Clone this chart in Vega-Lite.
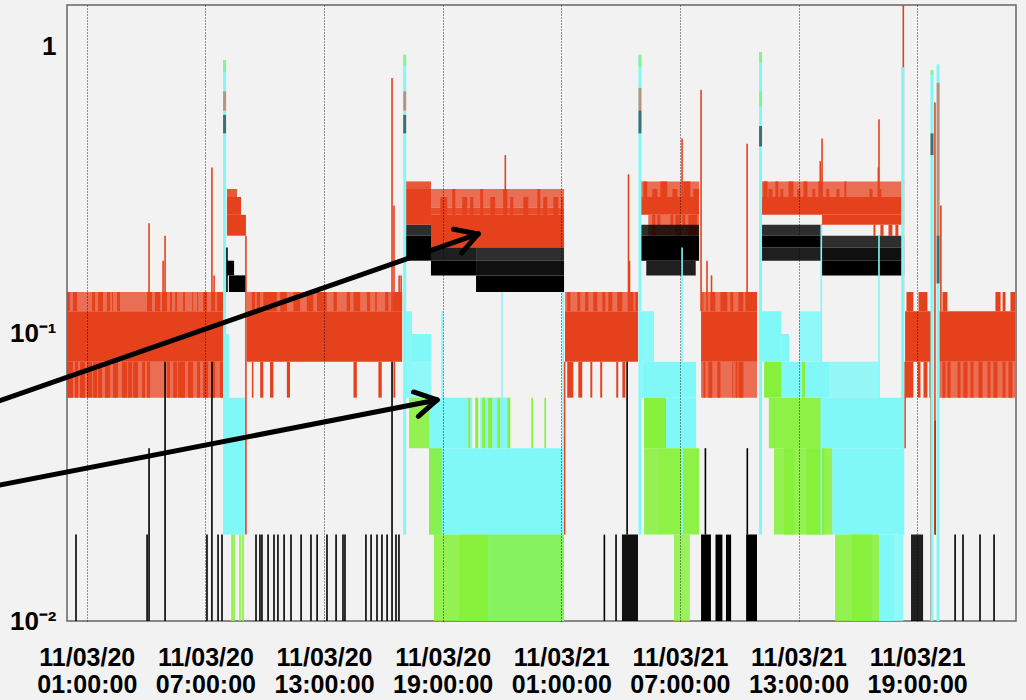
{
  "$schema": "https://vega.github.io/schema/vega-lite/v6.json",
  "width": 949,
  "height": 616,
  "autosize": "none",
  "padding": {"left": 67, "top": 5, "right": 10, "bottom": 79},
  "background": "#f2f2f2",
  "config": {
    "view": {"stroke": "#666666", "strokeWidth": 1.5, "fill": "#f2f2f2"},
    "axis": {"labelFont": "Liberation Sans", "labelFontWeight": "bold", "labelFontSize": 25, "labelColor": "#000000", "domain": false, "ticks": false, "tickSize": 0, "title": null}
  },
  "datasets": {
    "stripes": [
      {"x1": 0, "x2": 0.15, "lo": 0.12, "hi": 0.14}, {"x1": 0.3, "x2": 0.51, "lo": 0.12, "hi": 0.14}, {"x1": 1.27, "x2": 1.42, "lo": 0.12, "hi": 0.14}, {"x1": 1.57, "x2": 1.82, "lo": 0.12, "hi": 0.14}, {"x1": 2.02, "x2": 2.18, "lo": 0.12, "hi": 0.14}, {"x1": 2.28, "x2": 2.33, "lo": 0.12, "hi": 0.14}, {"x1": 2.53, "x2": 2.68, "lo": 0.12, "hi": 0.14}, {"x1": 4.05, "x2": 4.3, "lo": 0.12, "hi": 0.14}, {"x1": 4.45, "x2": 4.71, "lo": 0.12, "hi": 0.14}, {"x1": 4.81, "x2": 5.06, "lo": 0.12, "hi": 0.14}, {"x1": 5.21, "x2": 5.31, "lo": 0.12, "hi": 0.14}, {"x1": 5.47, "x2": 5.57, "lo": 0.12, "hi": 0.14}, {"x1": 5.87, "x2": 5.97, "lo": 0.12, "hi": 0.14}, {"x1": 6.33, "x2": 6.38, "lo": 0.12, "hi": 0.14}, {"x1": 6.58, "x2": 6.63, "lo": 0.12, "hi": 0.14}, {"x1": 6.88, "x2": 7.09, "lo": 0.12, "hi": 0.14}, {"x1": 7.34, "x2": 7.49, "lo": 0.12, "hi": 0.14}, {"x1": 7.59, "x2": 7.89, "lo": 0.12, "hi": 0.14},
      {"x1": 0, "x2": 0.3, "lo": 0.06, "hi": 0.08}, {"x1": 0.4, "x2": 0.56, "lo": 0.06, "hi": 0.08}, {"x1": 0.66, "x2": 0.91, "lo": 0.06, "hi": 0.08}, {"x1": 1.01, "x2": 1.27, "lo": 0.06, "hi": 0.08}, {"x1": 1.32, "x2": 1.52, "lo": 0.06, "hi": 0.08}, {"x1": 1.57, "x2": 1.77, "lo": 0.06, "hi": 0.08}, {"x1": 1.92, "x2": 2.18, "lo": 0.06, "hi": 0.08}, {"x1": 2.33, "x2": 2.58, "lo": 0.06, "hi": 0.08}, {"x1": 2.78, "x2": 3.04, "lo": 0.06, "hi": 0.08}, {"x1": 3.09, "x2": 3.29, "lo": 0.06, "hi": 0.08}, {"x1": 3.34, "x2": 3.59, "lo": 0.06, "hi": 0.08}, {"x1": 3.8, "x2": 3.95, "lo": 0.06, "hi": 0.08}, {"x1": 4.05, "x2": 4.2, "lo": 0.06, "hi": 0.08}, {"x1": 5.06, "x2": 5.21, "lo": 0.06, "hi": 0.08}, {"x1": 5.37, "x2": 5.57, "lo": 0.06, "hi": 0.08}, {"x1": 5.62, "x2": 5.97, "lo": 0.06, "hi": 0.08}, {"x1": 6.12, "x2": 6.38, "lo": 0.06, "hi": 0.08}, {"x1": 6.58, "x2": 6.73, "lo": 0.06, "hi": 0.08}, {"x1": 6.88, "x2": 7.14, "lo": 0.06, "hi": 0.08}, {"x1": 7.34, "x2": 7.49, "lo": 0.06, "hi": 0.08}, {"x1": 7.74, "x2": 7.89, "lo": 0.06, "hi": 0.08},
      {"x1": 9.35, "x2": 9.51, "lo": 0.12, "hi": 0.14}, {"x1": 9.6, "x2": 9.77, "lo": 0.12, "hi": 0.14}, {"x1": 9.93, "x2": 10.61, "lo": 0.12, "hi": 0.14}, {"x1": 10.78, "x2": 11.12, "lo": 0.12, "hi": 0.14}, {"x1": 11.45, "x2": 11.79, "lo": 0.12, "hi": 0.14}, {"x1": 12.13, "x2": 12.46, "lo": 0.12, "hi": 0.14}, {"x1": 12.64, "x2": 13.14, "lo": 0.12, "hi": 0.14}, {"x1": 13.48, "x2": 13.65, "lo": 0.12, "hi": 0.14}, {"x1": 14.15, "x2": 14.32, "lo": 0.12, "hi": 0.14}, {"x1": 14.49, "x2": 14.83, "lo": 0.12, "hi": 0.14}, {"x1": 15.17, "x2": 15.33, "lo": 0.12, "hi": 0.14}, {"x1": 15.59, "x2": 15.67, "lo": 0.12, "hi": 0.14}, {"x1": 16.09, "x2": 16.26, "lo": 0.12, "hi": 0.14}, {"x1": 16.51, "x2": 16.95, "lo": 0.12, "hi": 0.14},
      {"x1": 9.35, "x2": 9.43, "lo": 0.06, "hi": 0.08}, {"x1": 9.77, "x2": 9.93, "lo": 0.06, "hi": 0.08}, {"x1": 10.27, "x2": 10.44, "lo": 0.06, "hi": 0.08}, {"x1": 11.12, "x2": 11.28, "lo": 0.06, "hi": 0.08}, {"x1": 14.49, "x2": 14.66, "lo": 0.06, "hi": 0.08}, {"x1": 15.75, "x2": 15.92, "lo": 0.06, "hi": 0.08}, {"x1": 16.51, "x2": 16.6, "lo": 0.06, "hi": 0.08},
      {"x1": 25.3, "x2": 25.46, "lo": 0.12, "hi": 0.14}, {"x1": 25.81, "x2": 25.96, "lo": 0.12, "hi": 0.14}, {"x1": 26.21, "x2": 26.37, "lo": 0.12, "hi": 0.14}, {"x1": 26.62, "x2": 26.82, "lo": 0.12, "hi": 0.14}, {"x1": 27.08, "x2": 27.23, "lo": 0.12, "hi": 0.14}, {"x1": 27.38, "x2": 27.58, "lo": 0.12, "hi": 0.14}, {"x1": 27.83, "x2": 28.09, "lo": 0.12, "hi": 0.14}, {"x1": 28.49, "x2": 28.64, "lo": 0.12, "hi": 0.14}, {"x1": 28.75, "x2": 28.88, "lo": 0.12, "hi": 0.14},
      {"x1": 25.3, "x2": 25.61, "lo": 0.06, "hi": 0.08}, {"x1": 25.86, "x2": 26.06, "lo": 0.06, "hi": 0.08}, {"x1": 26.47, "x2": 26.57, "lo": 0.06, "hi": 0.08}, {"x1": 26.97, "x2": 27.07, "lo": 0.06, "hi": 0.08}, {"x1": 27.78, "x2": 27.88, "lo": 0.06, "hi": 0.08}, {"x1": 28.09, "x2": 28.24, "lo": 0.06, "hi": 0.08},
      {"x1": 32.14, "x2": 32.19, "lo": 0.12, "hi": 0.14}, {"x1": 32.54, "x2": 32.79, "lo": 0.12, "hi": 0.14}, {"x1": 33.05, "x2": 33.4, "lo": 0.12, "hi": 0.14}, {"x1": 33.55, "x2": 33.7, "lo": 0.12, "hi": 0.14}, {"x1": 33.96, "x2": 34.21, "lo": 0.12, "hi": 0.14}, {"x1": 34.31, "x2": 34.9, "lo": 0.12, "hi": 0.14},
      {"x1": 32.19, "x2": 32.29, "lo": 0.06, "hi": 0.08}, {"x1": 32.44, "x2": 32.64, "lo": 0.06, "hi": 0.08}, {"x1": 32.89, "x2": 33.05, "lo": 0.06, "hi": 0.08}, {"x1": 33.65, "x2": 33.7, "lo": 0.06, "hi": 0.08}, {"x1": 33.81, "x2": 33.91, "lo": 0.06, "hi": 0.08}, {"x1": 33.96, "x2": 34.21, "lo": 0.06, "hi": 0.08},
      {"x1": 42.46, "x2": 42.81, "lo": 0.12, "hi": 0.14}, {"x1": 43.07, "x2": 43.52, "lo": 0.12, "hi": 0.14}, {"x1": 44.28, "x2": 44.53, "lo": 0.12, "hi": 0.14}, {"x1": 46.96, "x2": 47.22, "lo": 0.12, "hi": 0.14}, {"x1": 47.32, "x2": 47.47, "lo": 0.12, "hi": 0.14}, {"x1": 47.72, "x2": 47.95, "lo": 0.12, "hi": 0.14},
      {"x1": 42.39, "x2": 42.81, "lo": 0.06, "hi": 0.08}, {"x1": 43.02, "x2": 43.17, "lo": 0.06, "hi": 0.08}, {"x1": 43.32, "x2": 43.52, "lo": 0.06, "hi": 0.08}, {"x1": 43.62, "x2": 43.67, "lo": 0.06, "hi": 0.08}, {"x1": 44.28, "x2": 44.43, "lo": 0.06, "hi": 0.08}, {"x1": 44.53, "x2": 44.69, "lo": 0.06, "hi": 0.08}, {"x1": 45.04, "x2": 45.19, "lo": 0.06, "hi": 0.08}, {"x1": 45.34, "x2": 45.55, "lo": 0.06, "hi": 0.08}, {"x1": 45.7, "x2": 45.85, "lo": 0.06, "hi": 0.08}, {"x1": 46.1, "x2": 46.31, "lo": 0.06, "hi": 0.08}, {"x1": 46.56, "x2": 46.71, "lo": 0.06, "hi": 0.08}, {"x1": 46.86, "x2": 47.06, "lo": 0.06, "hi": 0.08}, {"x1": 47.32, "x2": 47.47, "lo": 0.06, "hi": 0.08}, {"x1": 47.62, "x2": 47.82, "lo": 0.06, "hi": 0.08},
      {"x1": 18.88, "x2": 19.23, "lo": 0.26, "hi": 0.3}, {"x1": 19.48, "x2": 19.64, "lo": 0.26, "hi": 0.32}, {"x1": 19.99, "x2": 20.24, "lo": 0.26, "hi": 0.3}, {"x1": 20.39, "x2": 20.55, "lo": 0.26, "hi": 0.3}, {"x1": 20.9, "x2": 21.05, "lo": 0.26, "hi": 0.32}, {"x1": 21.41, "x2": 21.66, "lo": 0.26, "hi": 0.3}, {"x1": 22.06, "x2": 22.27, "lo": 0.26, "hi": 0.32}, {"x1": 22.42, "x2": 22.57, "lo": 0.26, "hi": 0.3}, {"x1": 23.08, "x2": 23.33, "lo": 0.26, "hi": 0.3}, {"x1": 23.79, "x2": 23.94, "lo": 0.26, "hi": 0.32}, {"x1": 24.09, "x2": 24.29, "lo": 0.26, "hi": 0.3}, {"x1": 24.6, "x2": 24.85, "lo": 0.26, "hi": 0.3}, {"x1": 25.0, "x2": 25.1, "lo": 0.26, "hi": 0.3},
      {"x1": 29.15, "x2": 29.35, "lo": 0.3, "hi": 0.34}, {"x1": 29.6, "x2": 29.86, "lo": 0.3, "hi": 0.32}, {"x1": 30.01, "x2": 30.36, "lo": 0.3, "hi": 0.34}, {"x1": 30.62, "x2": 30.87, "lo": 0.3, "hi": 0.32}, {"x1": 31.17, "x2": 31.53, "lo": 0.3, "hi": 0.34}, {"x1": 31.68, "x2": 31.97, "lo": 0.3, "hi": 0.32},
      {"x1": 29.6, "x2": 29.76, "lo": 0.22, "hi": 0.26}, {"x1": 29.86, "x2": 30.01, "lo": 0.24, "hi": 0.26}, {"x1": 30.52, "x2": 30.67, "lo": 0.24, "hi": 0.26}, {"x1": 30.77, "x2": 31.02, "lo": 0.22, "hi": 0.26}, {"x1": 31.12, "x2": 31.27, "lo": 0.24, "hi": 0.26}, {"x1": 31.43, "x2": 31.88, "lo": 0.22, "hi": 0.26},
      {"x1": 35.22, "x2": 35.43, "lo": 0.3, "hi": 0.34}, {"x1": 35.48, "x2": 35.68, "lo": 0.3, "hi": 0.32}, {"x1": 35.83, "x2": 35.98, "lo": 0.3, "hi": 0.34}, {"x1": 36.08, "x2": 36.23, "lo": 0.3, "hi": 0.32}, {"x1": 36.49, "x2": 36.74, "lo": 0.3, "hi": 0.34}, {"x1": 36.94, "x2": 37.09, "lo": 0.3, "hi": 0.32}, {"x1": 37.25, "x2": 37.45, "lo": 0.3, "hi": 0.34}, {"x1": 37.7, "x2": 37.85, "lo": 0.3, "hi": 0.32}, {"x1": 38.0, "x2": 38.21, "lo": 0.3, "hi": 0.34}, {"x1": 38.41, "x2": 38.56, "lo": 0.3, "hi": 0.32}, {"x1": 38.92, "x2": 39.07, "lo": 0.3, "hi": 0.32}, {"x1": 39.32, "x2": 39.42, "lo": 0.3, "hi": 0.34}, {"x1": 40.59, "x2": 40.74, "lo": 0.3, "hi": 0.32}, {"x1": 41.09, "x2": 41.19, "lo": 0.3, "hi": 0.32},
      {"x1": 40.79, "x2": 40.89, "lo": 0.22, "hi": 0.24}, {"x1": 41.14, "x2": 41.3, "lo": 0.22, "hi": 0.24}, {"x1": 41.55, "x2": 41.75, "lo": 0.22, "hi": 0.24}, {"x1": 41.9, "x2": 42.05, "lo": 0.22, "hi": 0.24}
    ],
    "blocks": [
      {"s": "red", "k": "wash", "x1": 0, "x2": 7.89, "lo": 0.12, "hi": 0.14},
      {"s": "red", "k": "wash", "x1": 0, "x2": 7.89, "lo": 0.06, "hi": 0.08},
      {"s": "red", "k": "wash", "x1": 9.1, "x2": 16.95, "lo": 0.12, "hi": 0.14},
      {"s": "red", "k": "wash", "x1": 25.19, "x2": 28.88, "lo": 0.12, "hi": 0.14},
      {"s": "red", "k": "wash", "x1": 32.07, "x2": 34.9, "lo": 0.12, "hi": 0.14},
      {"s": "red", "k": "wash", "x1": 32.07, "x2": 34.9, "lo": 0.06, "hi": 0.08},
      {"s": "red", "k": "wash", "x1": 44.11, "x2": 47.95, "lo": 0.06, "hi": 0.08},
      {"s": "red", "k": "core", "x1": 0, "x2": 7.89, "lo": 0.08, "hi": 0.12},
      {"s": "red", "k": "core", "x1": 9.1, "x2": 16.95, "lo": 0.08, "hi": 0.12},
      {"s": "red", "k": "core", "x1": 25.19, "x2": 28.88, "lo": 0.08, "hi": 0.12},
      {"s": "red", "k": "core", "x1": 32.07, "x2": 34.9, "lo": 0.08, "hi": 0.12},
      {"s": "red", "k": "core", "x1": 42.39, "x2": 43.7, "lo": 0.08, "hi": 0.12},
      {"s": "red", "k": "core", "x1": 44.11, "x2": 47.95, "lo": 0.08, "hi": 0.12},
      {"s": "red", "k": "core", "x1": 8.09, "x2": 9.05, "lo": 0.22, "hi": 0.26},
      {"s": "red", "k": "core", "x1": 8.09, "x2": 8.8, "lo": 0.26, "hi": 0.3},
      {"s": "red", "k": "fringe", "x1": 8.09, "x2": 8.6, "lo": 0.3, "hi": 0.32},
      {"s": "red", "k": "core", "x1": 17.15, "x2": 18.41, "lo": 0.24, "hi": 0.32},
      {"s": "red", "k": "fringe", "x1": 17.15, "x2": 18.41, "lo": 0.32, "hi": 0.34},
      {"s": "red", "k": "core", "x1": 18.41, "x2": 25.14, "lo": 0.2, "hi": 0.26},
      {"s": "red", "k": "dense", "x1": 18.41, "x2": 25.14, "lo": 0.26, "hi": 0.275},
      {"s": "red", "k": "wash", "x1": 18.41, "x2": 25.14, "lo": 0.275, "hi": 0.32},
      {"s": "red", "k": "core", "x1": 28.98, "x2": 31.97, "lo": 0.26, "hi": 0.3},
      {"s": "red", "k": "wash", "x1": 28.98, "x2": 31.97, "lo": 0.3, "hi": 0.34},
      {"s": "red", "k": "wash", "x1": 29.4, "x2": 31.97, "lo": 0.22, "hi": 0.26},
      {"s": "red", "k": "core", "x1": 35.1, "x2": 42.34, "lo": 0.26, "hi": 0.3},
      {"s": "red", "k": "core", "x1": 38.19, "x2": 42.34, "lo": 0.24, "hi": 0.26},
      {"s": "red", "k": "wash", "x1": 35.1, "x2": 42.34, "lo": 0.3, "hi": 0.34},
      {"s": "black", "k": "core", "x1": 8.09, "x2": 8.45, "lo": 0.16, "hi": 0.18},
      {"s": "black", "k": "core", "x1": 8.19, "x2": 9.05, "lo": 0.14, "hi": 0.16},
      {"s": "black", "k": "core", "x1": 17.15, "x2": 18.41, "lo": 0.18, "hi": 0.22},
      {"s": "black", "k": "sparse", "x1": 17.15, "x2": 18.41, "lo": 0.22, "hi": 0.24},
      {"s": "black", "k": "core", "x1": 18.41, "x2": 20.69, "lo": 0.16, "hi": 0.18},
      {"s": "black", "k": "fringe", "x1": 18.41, "x2": 20.69, "lo": 0.18, "hi": 0.2},
      {"s": "black", "k": "core", "x1": 20.69, "x2": 25.14, "lo": 0.14, "hi": 0.16},
      {"s": "black", "k": "dense", "x1": 20.69, "x2": 25.14, "lo": 0.16, "hi": 0.18},
      {"s": "black", "k": "sparse", "x1": 20.69, "x2": 25.14, "lo": 0.18, "hi": 0.2},
      {"s": "black", "k": "core", "x1": 28.98, "x2": 31.97, "lo": 0.18, "hi": 0.22},
      {"s": "black", "k": "fringe", "x1": 29.3, "x2": 31.8, "lo": 0.16, "hi": 0.18},
      {"s": "black", "k": "sparse", "x1": 28.98, "x2": 31.97, "lo": 0.22, "hi": 0.24},
      {"s": "black", "k": "core", "x1": 35.1, "x2": 38.19, "lo": 0.2, "hi": 0.22},
      {"s": "black", "k": "fringe", "x1": 35.1, "x2": 38.19, "lo": 0.18, "hi": 0.2},
      {"s": "black", "k": "sparse", "x1": 35.1, "x2": 38.19, "lo": 0.22, "hi": 0.24},
      {"s": "black", "k": "core", "x1": 38.19, "x2": 42.34, "lo": 0.16, "hi": 0.18},
      {"s": "black", "k": "dense", "x1": 38.19, "x2": 42.34, "lo": 0.18, "hi": 0.2},
      {"s": "black", "k": "sparse", "x1": 38.19, "x2": 42.34, "lo": 0.2, "hi": 0.22},
      {"s": "black", "k": "dense", "x1": 28.07, "x2": 28.88, "lo": 0.01, "hi": 0.02},
      {"s": "black", "k": "core", "x1": 32.07, "x2": 32.57, "lo": 0.01, "hi": 0.02},
      {"s": "black", "k": "core", "x1": 32.8, "x2": 33.15, "lo": 0.01, "hi": 0.02},
      {"s": "black", "k": "core", "x1": 33.33, "x2": 33.59, "lo": 0.01, "hi": 0.02},
      {"s": "black", "k": "core", "x1": 34.35, "x2": 34.9, "lo": 0.01, "hi": 0.02},
      {"s": "black", "k": "fringe", "x1": 42.69, "x2": 43.3, "lo": 0.01, "hi": 0.02},
      {"s": "cyan", "k": "core", "x1": 8.04, "x2": 9.0, "lo": 0.02, "hi": 0.06},
      {"s": "cyan", "k": "core", "x1": 7.94, "x2": 8.19, "lo": 0.06, "hi": 0.1},
      {"s": "cyan", "k": "dense", "x1": 17.05, "x2": 17.45, "lo": 0.06, "hi": 0.12},
      {"s": "cyan", "k": "core", "x1": 17.45, "x2": 18.41, "lo": 0.08, "hi": 0.1},
      {"s": "cyan", "k": "fringe", "x1": 17.45, "x2": 18.41, "lo": 0.06, "hi": 0.08},
      {"s": "cyan", "k": "core", "x1": 18.31, "x2": 20.29, "lo": 0.04, "hi": 0.06},
      {"s": "cyan", "k": "core", "x1": 20.39, "x2": 20.5, "lo": 0.04, "hi": 0.06},
      {"s": "cyan", "k": "core", "x1": 20.9, "x2": 21.0, "lo": 0.04, "hi": 0.06},
      {"s": "cyan", "k": "core", "x1": 21.15, "x2": 21.3, "lo": 0.04, "hi": 0.06},
      {"s": "cyan", "k": "core", "x1": 21.51, "x2": 21.76, "lo": 0.04, "hi": 0.06},
      {"s": "cyan", "k": "core", "x1": 21.91, "x2": 22.27, "lo": 0.04, "hi": 0.06},
      {"s": "cyan", "k": "core", "x1": 18.31, "x2": 25.14, "lo": 0.02, "hi": 0.04},
      {"s": "cyan", "k": "core", "x1": 21.3, "x2": 25.14, "lo": 0.01, "hi": 0.02},
      {"s": "cyan", "k": "dense", "x1": 28.98, "x2": 29.69, "lo": 0.08, "hi": 0.12},
      {"s": "cyan", "k": "core", "x1": 29.08, "x2": 31.82, "lo": 0.06, "hi": 0.08},
      {"s": "cyan", "k": "core", "x1": 30.3, "x2": 31.82, "lo": 0.04, "hi": 0.06},
      {"s": "cyan", "k": "core", "x1": 35.1, "x2": 36.12, "lo": 0.08, "hi": 0.12},
      {"s": "cyan", "k": "core", "x1": 36.12, "x2": 36.52, "lo": 0.08, "hi": 0.1},
      {"s": "cyan", "k": "fringe", "x1": 37.03, "x2": 38.19, "lo": 0.08, "hi": 0.12},
      {"s": "cyan", "k": "core", "x1": 36.12, "x2": 37.18, "lo": 0.06, "hi": 0.08},
      {"s": "cyan", "k": "core", "x1": 37.33, "x2": 38.54, "lo": 0.06, "hi": 0.08},
      {"s": "cyan", "k": "sparse", "x1": 38.54, "x2": 41.07, "lo": 0.06, "hi": 0.08},
      {"s": "cyan", "k": "core", "x1": 38.19, "x2": 42.34, "lo": 0.04, "hi": 0.06},
      {"s": "cyan", "k": "core", "x1": 38.7, "x2": 42.34, "lo": 0.02, "hi": 0.04},
      {"s": "cyan", "k": "core", "x1": 41.07, "x2": 41.83, "lo": 0.01, "hi": 0.02},
      {"s": "cyan", "k": "fringe", "x1": 41.83, "x2": 42.3, "lo": 0.01, "hi": 0.02},
      {"s": "green", "k": "fringe", "x1": 17.3, "x2": 18.31, "lo": 0.04, "hi": 0.06},
      {"s": "green", "k": "fringe", "x1": 18.31, "x2": 18.97, "lo": 0.02, "hi": 0.04},
      {"s": "green", "k": "fringe", "x1": 18.56, "x2": 19.83, "lo": 0.01, "hi": 0.02},
      {"s": "green", "k": "core", "x1": 19.83, "x2": 21.3, "lo": 0.01, "hi": 0.02},
      {"s": "green", "k": "sparse", "x1": 21.3, "x2": 25.14, "lo": 0.01, "hi": 0.02},
      {"s": "green", "k": "core", "x1": 20.29, "x2": 20.39, "lo": 0.04, "hi": 0.06},
      {"s": "green", "k": "core", "x1": 20.65, "x2": 20.8, "lo": 0.04, "hi": 0.06},
      {"s": "green", "k": "core", "x1": 21.0, "x2": 21.15, "lo": 0.04, "hi": 0.06},
      {"s": "green", "k": "core", "x1": 21.3, "x2": 21.51, "lo": 0.04, "hi": 0.06},
      {"s": "green", "k": "core", "x1": 21.76, "x2": 21.91, "lo": 0.04, "hi": 0.06},
      {"s": "green", "k": "core", "x1": 22.27, "x2": 22.42, "lo": 0.04, "hi": 0.06},
      {"s": "green", "k": "core", "x1": 29.19, "x2": 30.3, "lo": 0.04, "hi": 0.06},
      {"s": "green", "k": "dense", "x1": 29.94, "x2": 31.97, "lo": 0.02, "hi": 0.04},
      {"s": "green", "k": "fringe", "x1": 29.19, "x2": 29.94, "lo": 0.02, "hi": 0.04},
      {"s": "green", "k": "sparse", "x1": 30.7, "x2": 31.5, "lo": 0.01, "hi": 0.02},
      {"s": "green", "k": "core", "x1": 35.26, "x2": 36.12, "lo": 0.06, "hi": 0.08},
      {"s": "green", "k": "core", "x1": 37.18, "x2": 37.33, "lo": 0.06, "hi": 0.08},
      {"s": "green", "k": "dense", "x1": 35.5, "x2": 38.19, "lo": 0.04, "hi": 0.06},
      {"s": "green", "k": "fringe", "x1": 35.76, "x2": 38.7, "lo": 0.02, "hi": 0.04},
      {"s": "green", "k": "core", "x1": 36.27, "x2": 36.8, "lo": 0.02, "hi": 0.04},
      {"s": "green", "k": "core", "x1": 37.4, "x2": 38.3, "lo": 0.02, "hi": 0.04},
      {"s": "green", "k": "fringe", "x1": 38.85, "x2": 41.07, "lo": 0.01, "hi": 0.02},
      {"s": "green", "k": "core", "x1": 39.71, "x2": 40.72, "lo": 0.01, "hi": 0.02}
    ],
    "lines": [
      {"s": "black", "x1": 0.455, "lo": 0.01, "hi": 0.02},
      {"s": "black", "x1": 4.05, "lo": 0.01, "hi": 0.02},
      {"s": "black", "x1": 7.08, "lo": 0.01, "hi": 0.02},
      {"s": "black", "x1": 7.64, "lo": 0.01, "hi": 0.02},
      {"s": "black", "x1": 7.84, "lo": 0.01, "hi": 0.02},
      {"s": "black", "x1": 9.56, "lo": 0.01, "hi": 0.02},
      {"s": "black", "x1": 9.76, "lo": 0.01, "hi": 0.02},
      {"s": "black", "x1": 9.86, "lo": 0.01, "hi": 0.02},
      {"s": "black", "x1": 10.17, "lo": 0.01, "hi": 0.02},
      {"s": "black", "x1": 10.47, "lo": 0.01, "hi": 0.02},
      {"s": "black", "x1": 10.67, "lo": 0.01, "hi": 0.02},
      {"s": "black", "x1": 10.98, "lo": 0.01, "hi": 0.02},
      {"s": "black", "x1": 11.33, "lo": 0.01, "hi": 0.02},
      {"s": "black", "x1": 11.84, "lo": 0.01, "hi": 0.02},
      {"s": "black", "x1": 12.34, "lo": 0.01, "hi": 0.02},
      {"s": "black", "x1": 12.65, "lo": 0.01, "hi": 0.02},
      {"s": "black", "x1": 13.15, "lo": 0.01, "hi": 0.02},
      {"s": "black", "x1": 13.61, "lo": 0.01, "hi": 0.02},
      {"s": "black", "x1": 13.96, "lo": 0.01, "hi": 0.02},
      {"s": "black", "x1": 14.06, "lo": 0.01, "hi": 0.02},
      {"s": "black", "x1": 15.12, "lo": 0.01, "hi": 0.02},
      {"s": "black", "x1": 15.38, "lo": 0.01, "hi": 0.02},
      {"s": "black", "x1": 15.68, "lo": 0.01, "hi": 0.02},
      {"s": "black", "x1": 15.93, "lo": 0.01, "hi": 0.02},
      {"s": "black", "x1": 16.19, "lo": 0.01, "hi": 0.02},
      {"s": "black", "x1": 16.64, "lo": 0.01, "hi": 0.02},
      {"s": "black", "x1": 16.79, "lo": 0.01, "hi": 0.02},
      {"s": "black", "x1": 27.18, "lo": 0.01, "hi": 0.02},
      {"s": "black", "x1": 27.77, "lo": 0.01, "hi": 0.02},
      {"s": "black", "x1": 44.92, "lo": 0.01, "hi": 0.02},
      {"s": "black", "x1": 45.32, "lo": 0.01, "hi": 0.02},
      {"s": "black", "x1": 46.18, "lo": 0.01, "hi": 0.02},
      {"s": "black", "x1": 46.89, "lo": 0.01, "hi": 0.02},
      {"s": "black", "x1": 4.96, "lo": 0.01, "hi": 0.08},
      {"s": "black", "x1": 7.33, "lo": 0.01, "hi": 0.08},
      {"s": "black", "x1": 16.44, "lo": 0.01, "hi": 0.08},
      {"s": "black", "x1": 4.15, "lo": 0.01, "hi": 0.04},
      {"s": "black", "x1": 28.33, "lo": 0.02, "hi": 0.08},
      {"s": "black", "x1": 32.29, "lo": 0.02, "hi": 0.04},
      {"s": "black", "x1": 34.41, "lo": 0.02, "hi": 0.04},
      {"s": "black", "x1": 43.91, "lo": 0.02, "hi": 0.05},
      {"s": "black", "x1": 8.09, "lo": 0.14, "hi": 0.2},
      {"s": "red", "x1": 4.15, "lo": 0.12, "hi": 0.243},
      {"s": "red", "x1": 4.96, "lo": 0.12, "hi": 0.22},
      {"s": "red", "x1": 4.86, "lo": 0.12, "hi": 0.18},
      {"s": "red", "x1": 7.33, "lo": 0.12, "hi": 0.38},
      {"s": "red", "x1": 7.44, "lo": 0.12, "hi": 0.16},
      {"s": "red", "x1": 16.44, "lo": 0.12, "hi": 0.78},
      {"s": "red", "x1": 16.54, "lo": 0.12, "hi": 0.28},
      {"s": "red", "x1": 16.8, "lo": 0.12, "hi": 0.16},
      {"s": "red", "x1": 16.9, "lo": 0.12, "hi": 0.16},
      {"s": "red", "x1": 9.05, "lo": 0.02, "hi": 0.22},
      {"s": "red", "x1": 22.17, "lo": 0.26, "hi": 0.42},
      {"s": "red", "x1": 25.17, "lo": 0.02, "hi": 0.08},
      {"s": "red", "x1": 28.4, "lo": 0.12, "hi": 0.36},
      {"s": "red", "x1": 28.45, "lo": 0.12, "hi": 0.18},
      {"s": "red", "x1": 31.11, "lo": 0.3, "hi": 0.48},
      {"s": "red", "x1": 32.07, "lo": 0.12, "hi": 0.71},
      {"s": "red", "x1": 32.37, "lo": 0.12, "hi": 0.18},
      {"s": "red", "x1": 32.6, "lo": 0.12, "hi": 0.16},
      {"s": "red", "x1": 34.4, "lo": 0.12, "hi": 0.46},
      {"s": "red", "x1": 38.1, "lo": 0.3, "hi": 0.4},
      {"s": "red", "x1": 38.19, "lo": 0.3, "hi": 0.48},
      {"s": "red", "x1": 41.04, "lo": 0.3, "hi": 0.38},
      {"s": "red", "x1": 41.07, "lo": 0.3, "hi": 0.56},
      {"s": "red", "x1": 42.3, "lo": 0.12, "hi": 1.4},
      {"s": "red", "x1": 43.9, "lo": 0.02, "hi": 0.64},
      {"s": "red", "x1": 44.2, "lo": 0.12, "hi": 0.28},
      {"s": "red", "x1": 42.39, "lo": 0.04, "hi": 0.08},
      {"s": "red", "x1": 43.7, "lo": 0.01, "hi": 0.08},
      {"s": "cyan", "x1": 18.97, "lo": 0.06, "hi": 0.12},
      {"s": "cyan", "x1": 22.0, "lo": 0.06, "hi": 0.14},
      {"s": "cyan", "x1": 31.11, "lo": 0.02, "hi": 0.2},
      {"s": "cyan", "x1": 38.15, "lo": 0.02, "hi": 0.24},
      {"s": "cyan", "x1": 41.07, "lo": 0.02, "hi": 0.22},
      {"s": "cyan", "x1": 25.1, "lo": 0.02, "hi": 0.14},
      {"s": "green", "x1": 8.35, "lo": 0.01, "hi": 0.02},
      {"s": "green", "x1": 8.45, "lo": 0.01, "hi": 0.02},
      {"s": "green", "x1": 8.75, "lo": 0.01, "hi": 0.02},
      {"s": "green", "x1": 8.9, "lo": 0.01, "hi": 0.02},
      {"s": "green", "x1": 23.53, "lo": 0.04, "hi": 0.06},
      {"s": "green", "x1": 24.19, "lo": 0.04, "hi": 0.06}
    ],
    "spikes": [
      {"x1": 7.97, "lo": 0.02, "hi": 0.9},
      {"x1": 17.08, "lo": 0.02, "hi": 0.94},
      {"x1": 28.98, "lo": 0.02, "hi": 0.94},
      {"x1": 35.08, "lo": 0.02, "hi": 0.96},
      {"x1": 42.27, "lo": 0.02, "hi": 0.85},
      {"x1": 43.75, "lo": 0.01, "hi": 0.83},
      {"x1": 44.06, "lo": 0.01, "hi": 0.87}
    ],
    "spikesegs": [
      {"s": "green", "x1": 7.97, "lo": 0.82, "hi": 0.9},
      {"s": "red", "x1": 7.97, "lo": 0.6, "hi": 0.7},
      {"s": "black", "x1": 7.97, "lo": 0.5, "hi": 0.58},
      {"s": "green", "x1": 17.08, "lo": 0.86, "hi": 0.94},
      {"s": "red", "x1": 17.08, "lo": 0.6, "hi": 0.7},
      {"s": "black", "x1": 17.08, "lo": 0.5, "hi": 0.58},
      {"s": "green", "x1": 28.98, "lo": 0.85, "hi": 0.94},
      {"s": "red", "x1": 28.98, "lo": 0.6, "hi": 0.72},
      {"s": "black", "x1": 28.98, "lo": 0.5, "hi": 0.6},
      {"s": "green", "x1": 35.08, "lo": 0.88, "hi": 0.96},
      {"s": "green", "x1": 35.08, "lo": 0.62, "hi": 0.7},
      {"s": "black", "x1": 35.08, "lo": 0.45, "hi": 0.53},
      {"s": "green", "x1": 43.75, "lo": 0.8, "hi": 0.83},
      {"s": "black", "x1": 43.75, "lo": 0.42, "hi": 0.5},
      {"s": "red", "x1": 44.06, "lo": 0.22, "hi": 0.75},
      {"s": "black", "x1": 44.06, "lo": 0.15, "hi": 0.22}
    ],
    "arrows": [
      {"x1": -4, "lo": 0.0566, "x2": 20.8, "hi": 0.2231},
      {"x1": 19.55, "lo": 0.2317, "x2": 20.8, "hi": 0.2231},
      {"x1": 19.97, "lo": 0.1917, "x2": 20.8, "hi": 0.2231},
      {"x1": -4, "lo": 0.0292, "x2": 18.72, "hi": 0.0589},
      {"x1": 17.53, "lo": 0.0628, "x2": 18.72, "hi": 0.0589},
      {"x1": 17.77, "lo": 0.0516, "x2": 18.72, "hi": 0.0589}
    ],
    "ymajor": [{"lo": 0.1}, {"lo": 1}],
    "yminor": [
      {"lo": 0.02}, {"lo": 0.03}, {"lo": 0.04}, {"lo": 0.05}, {"lo": 0.06}, {"lo": 0.07}, {"lo": 0.08}, {"lo": 0.09},
      {"lo": 0.2}, {"lo": 0.3}, {"lo": 0.4}, {"lo": 0.5}, {"lo": 0.6}, {"lo": 0.7}, {"lo": 0.8}, {"lo": 0.9}
    ],
    "xmajor": [{"x1": 1}, {"x1": 7}, {"x1": 13}, {"x1": 19}, {"x1": 25}, {"x1": 31}, {"x1": 37}, {"x1": 43}],
    "xminor": [{"x1": 3}, {"x1": 9}, {"x1": 15}, {"x1": 21}, {"x1": 27}, {"x1": 33}, {"x1": 39}, {"x1": 45}]
  },
  "encoding": {
    "x": {
      "field": "x1", "type": "quantitative",
      "scale": {"domain": [0, 48], "nice": false, "zero": false},
      "axis": {
        "values": [1, 7, 13, 19, 25, 31, 37, 43],
        "labelExpr": "[datum.value < 24 ? '11/03/20' : '11/03/21', (datum.value % 24 < 10 ? '0' : '') + (datum.value % 24) + ':00:00']",
        "labelBaseline": "top", "labelLineHeight": 27, "labelPadding": 24, "labelAlign": "center",
        "labelFlush": false, "labelOverlap": false, "labelBound": false,
        "grid": true, "gridColor": "#000000", "gridDash": [1, 2], "gridWidth": 1, "gridOpacity": 0.8, "zindex": 1
      }
    },
    "y": {
      "field": "lo", "type": "quantitative",
      "scale": {"type": "log", "domain": [0.01, 1.4], "nice": false},
      "axis": {
        "values": [0.01, 0.1, 1],
        "labelExpr": "datum.value >= 1 ? '1' : (datum.value >= 0.1 ? '10⁻¹' : '10⁻²')",
        "labelFontSize": 26, "labelPadding": 11, "grid": false, "labelBaseline": "middle", "zindex": 1
      }
    }
  },
  "layer": [
    {
      "data": {"name": "ymajor"},
      "mark": {"type": "rule", "color": "#555555", "strokeWidth": 1.5},
      "encoding": {"x": {"datum": 0}, "x2": {"datum": 1.37}}
    },
    {
      "data": {"name": "yminor"},
      "mark": {"type": "rule", "color": "#333333", "strokeWidth": 1.2},
      "encoding": {"x": {"datum": 0}, "x2": {"datum": 0.71}}
    },
    {
      "data": {"name": "xmajor"},
      "mark": {"type": "rule", "color": "#222222", "strokeWidth": 1.2},
      "encoding": {"y": {"datum": 0.01}, "y2": {"datum": 0.01174}}
    },
    {
      "data": {"name": "xminor"},
      "mark": {"type": "rule", "color": "#222222", "strokeWidth": 1.2},
      "encoding": {"y": {"datum": 0.01}, "y2": {"datum": 0.01083}}
    },
    {
      "data": {"name": "stripes"},
      "mark": {"type": "rect", "color": "#e5411d"},
      "encoding": {"x2": {"field": "x2"}, "y2": {"field": "hi"}}
    },
    {
      "data": {"name": "blocks"},
      "mark": {"type": "rect"},
      "encoding": {
        "x2": {"field": "x2"},
        "y2": {"field": "hi"},
        "color": {"field": "s", "type": "nominal", "scale": {"domain": ["red", "black", "cyan", "green"], "range": ["#e5411d", "#000000", "#80f8f8", "#86f03a"]}, "legend": null},
        "opacity": {"field": "k", "type": "nominal", "scale": {"domain": ["core", "dense", "fringe", "sparse", "wash"], "range": [1, 0.75, 0.5, 0.28, 0.18]}, "legend": null}
      }
    },
    {
      "data": {"name": "lines"},
      "mark": {"type": "rule", "strokeWidth": 1.6},
      "encoding": {
        "y2": {"field": "hi"},
        "color": {"field": "s", "type": "nominal", "legend": null}
      }
    },
    {
      "data": {"name": "spikes"},
      "mark": {"type": "rule", "strokeWidth": 3, "color": "#80f8f8"},
      "encoding": {"y2": {"field": "hi"}}
    },
    {
      "data": {"name": "spikesegs"},
      "mark": {"type": "rule", "strokeWidth": 3, "opacity": 0.55},
      "encoding": {
        "y2": {"field": "hi"},
        "color": {"field": "s", "type": "nominal", "legend": null}
      }
    },
    {
      "mark": {"type": "rect", "color": "#ffffff"},
      "data": {"values": [{}]},
      "encoding": {"x": {"datum": -4}, "x2": {"datum": -2.83}, "y": {"datum": 0.004}, "y2": {"datum": 2}}
    },
    {
      "mark": {"type": "rect", "fill": "#ffffff", "stroke": "#555555", "strokeWidth": 1},
      "data": {"values": [{}]},
      "encoding": {"x": {"datum": -3.6}, "x2": {"datum": -3.3}, "y": {"datum": 0.88}, "y2": {"datum": 1.367}}
    },
    {
      "data": {"name": "arrows"},
      "mark": {"type": "rule", "color": "#000000", "strokeWidth": 5, "strokeCap": "round"},
      "encoding": {"x2": {"field": "x2"}, "y2": {"field": "hi"}}
    }
  ]
}
